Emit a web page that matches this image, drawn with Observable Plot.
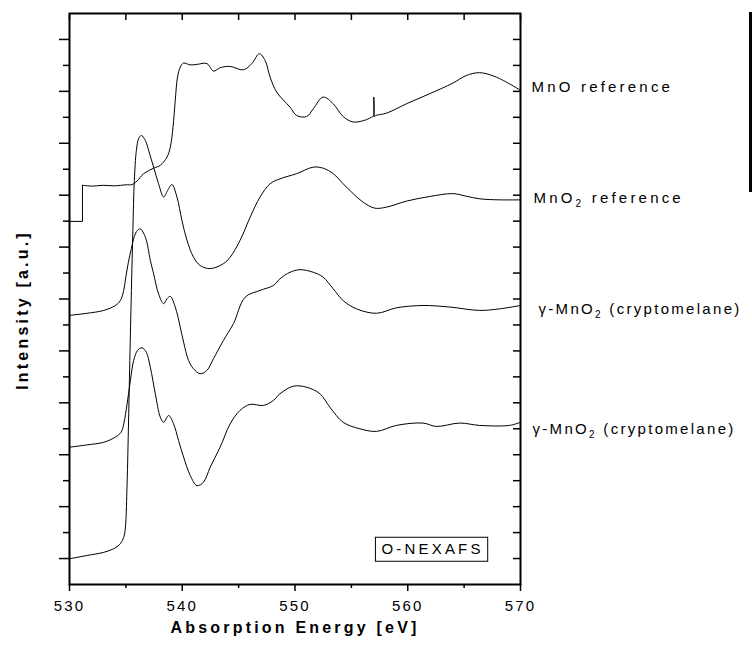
<!DOCTYPE html>
<html><head><meta charset="utf-8">
<script src="https://cdn.jsdelivr.net/npm/d3@7"></script>
<script src="https://cdn.jsdelivr.net/npm/@observablehq/plot@0.6"></script>
<style>
body{margin:0;background:#fff;}
#chart{position:relative;width:752px;height:647px;overflow:hidden;}
#edge{position:absolute;left:749px;top:12px;width:3px;height:180px;background:#000;}
#chart svg text{letter-spacing:3.2px;}
#chart svg g[aria-label="x-axis tick label"] text{letter-spacing:2.2px;}
#chart svg g.glabel text{letter-spacing:2.3px;}
</style></head><body><div id="chart"><div id="edge"></div></div>
<script>
// Energy [eV], intensity [a.u., offset stacked]
const mnoRef = [[530.00,13.99],[531.15,13.99],[531.15,15.38],[532.0,15.35],[533.0,15.38],[534.0,15.36],[535.0,15.40],[535.55,15.41],[536.0,15.55],[536.58,15.83],[537.46,16.04],[538.05,16.15],[538.65,16.47],[538.94,16.85],[539.18,17.62],[539.38,18.65],[539.58,19.55],[539.82,19.93],[540.12,20.09],[540.7,20.02],[541.30,20.04],[542.19,20.07],[542.77,19.78],[543.36,19.91],[544.25,19.96],[545.42,19.83],[546.17,20.07],[546.84,20.45],[547.35,20.19],[547.79,19.55],[548.38,18.97],[549.56,18.39],[550.15,18.07],[551.04,18.03],[551.62,18.33],[552.50,18.78],[553.39,18.52],[554.27,18.03],[555.16,17.82],[556.35,17.91],[556.79,18.01],[556.95,18.03],[556.99,18.78],[557.06,18.03],[557.17,18.07],[558.12,18.16],[559.88,18.52],[561.95,18.91],[564.01,19.32],[565.19,19.61],[566.37,19.72],[567.85,19.55],[570.00,19.04]];
const mno2Ref = [[530.00,0.99],[531.57,1.12],[533.04,1.24],[533.92,1.38],[534.51,1.57],[534.81,1.82],[534.96,2.21],[535.09,3.60],[535.22,5.92],[535.35,8.63],[535.49,11.33],[535.62,13.64],[535.75,15.57],[535.93,16.72],[536.13,17.18],[536.37,17.30],[536.73,17.11],[537.02,16.72],[537.46,16.08],[537.90,15.44],[538.35,14.93],[538.70,15.18],[539.09,15.41],[539.53,14.93],[539.97,14.03],[540.42,13.26],[541.00,12.61],[541.59,12.29],[542.48,12.17],[543.65,12.36],[544.25,12.61],[545.13,13.26],[546.02,14.15],[546.90,14.93],[547.79,15.44],[548.67,15.63],[550.15,15.83],[551.62,16.08],[552.50,16.04],[553.39,15.83],[554.27,15.44],[555.16,15.06],[556.04,14.73],[557.08,14.50],[558.12,14.54],[559.88,14.77],[561.95,14.95],[564.01,15.06],[565.19,14.96],[566.37,14.86],[568.14,14.82],[570.00,14.82]];
const gamma1 = [[530.00,10.37],[531.57,10.45],[533.04,10.56],[534.07,10.75],[534.51,10.94],[534.81,11.33],[535.00,11.87],[535.22,12.41],[535.49,12.95],[535.75,13.41],[536.02,13.64],[536.28,13.70],[536.73,13.38],[537.17,12.49],[537.46,11.97],[537.90,11.20],[538.35,10.82],[538.65,11.01],[538.94,11.10],[539.38,10.69],[539.82,9.92],[540.12,9.34],[540.56,8.63],[541.00,8.31],[541.59,8.12],[542.19,8.25],[542.77,8.70],[543.65,9.40],[544.54,10.05],[545.58,11.07],[546.90,11.33],[548.08,11.52],[548.67,11.78],[549.56,12.03],[550.44,12.13],[551.62,12.03],[552.50,11.84],[553.39,11.39],[554.27,10.94],[555.46,10.62],[557.23,10.45],[559.00,10.66],[561.35,10.75],[563.72,10.69],[566.37,10.56],[568.14,10.62],[570.00,10.75]];
const gamma2 = [[530.00,5.29],[531.57,5.38],[533.04,5.48],[534.07,5.68],[534.58,5.87],[534.81,6.19],[535.11,6.96],[535.40,7.86],[535.69,8.63],[536.04,9.02],[536.43,9.12],[536.81,8.95],[537.17,8.37],[537.61,7.35],[538.05,6.45],[538.35,6.25],[538.79,6.51],[539.23,6.19],[539.67,5.55],[540.12,4.91],[540.71,4.20],[541.30,3.81],[541.88,3.94],[542.48,4.52],[543.36,5.29],[544.25,6.19],[545.13,6.71],[546.02,6.94],[547.19,6.90],[548.08,7.09],[548.67,7.35],[549.85,7.64],[551.04,7.60],[552.21,7.35],[553.10,6.83],[554.27,6.25],[555.75,6.00],[557.23,5.90],[559.00,6.13],[561.35,6.22],[562.54,6.09],[564.60,6.22],[566.37,6.13],[569.03,6.13],[570.00,6.25]];
const seriesNames = ["MnO reference","MnO₂ reference","γ-MnO₂ (cryptomelane)","γ-MnO₂ (cryptomelane)"];
const xMajor = [530,540,550,560,570];
const xMinor = [535,545,555,565];
const xTop = [530,535,540,545,550,555,560,565,570];
const yMajor = [1,3,5,7,9,11,13,15,17,19,21];
const yMinor = [2,4,6,8,10,12,14,16,18,20];
const yRight = [1,2,3,4,5,6,7,8,9,10,11,12,13,14,15,16,17,18,19,20,21];
const boxLabel = {text:"O-NEXAFS", x:562.2, y:1.35};
const xLabel = "Absorption Energy [eV]";
const yLabel = "Intensity [a.u.]";

const series = [mnoRef, mno2Ref, gamma1, gamma2];
const rows = series.flatMap((s,k)=>s.map(([e,v],j)=>({e,v,k,step:k===0 && j<3})));
const ends = series.map((s,k)=>({e:s[s.length-1][0], v:s[s.length-1][1], name:seriesNames[k]}));
const font = "'Liberation Sans', Arial, Helvetica, sans-serif";
const labelDx = [11,13,18,12];
const labelDy = [-3,-2,4,7];
const labelClass = ["rlabel","rlabel","glabel","glabel"];
const noText = ()=>"";
const stepRows = rows.filter(d=>d.step);
const curveRows = rows.filter(d=>!d.step || d===stepRows[2]);

const plot = Plot.plot({
  width:752, height:647,
  marginLeft:69, marginRight:232, marginTop:13, marginBottom:63,
  x:{domain:[530,570]},
  y:{domain:[0,22]},
  style:{fontFamily:font, fontSize:"15px", color:"#000", background:"#fff"},
  marks:[
    Plot.line(stepRows,{x:"e", y:"v", stroke:"#000", strokeWidth:1}),
    Plot.line(curveRows,{x:"e", y:"v", z:"k", stroke:"#000", strokeWidth:1, curve:"catmull-rom"}),
    Plot.axisX({anchor:"bottom", ticks:xMajor, tickSize:7, tickPadding:9, tickFormat:d=>String(d), label:null, strokeWidth:1.5, fontSize:15}),
    Plot.axisX({anchor:"bottom", ticks:xMinor, tickSize:4, tickFormat:noText, label:null, strokeWidth:1.5}),
    Plot.axisX({anchor:"top", ticks:xTop, tickSize:-6, tickFormat:noText, label:null, strokeWidth:1.5}),
    Plot.axisY({anchor:"left", ticks:yMajor, tickSize:10, tickFormat:noText, label:null, strokeWidth:1.5}),
    Plot.axisY({anchor:"left", ticks:yMinor, tickSize:6, tickFormat:noText, label:null, strokeWidth:1.5}),
    Plot.axisY({anchor:"right", ticks:yRight, tickSize:-8, tickFormat:noText, label:null, strokeWidth:1.5}),
    Plot.frame({stroke:"#000", strokeWidth:2}),
    ...ends.map((d,i)=>Plot.text([d],{x:"e", y:"v", text:"name", textAnchor:"start", dx:labelDx[i], dy:labelDy[i], fontSize:15, clip:false, className:labelClass[i]})),
    Plot.text([xLabel],{text:d=>d, frameAnchor:"bottom", textAnchor:"middle", dy:48, fontWeight:"bold", fontSize:16}),
    Plot.text([yLabel],{text:d=>d, frameAnchor:"left", textAnchor:"middle", dx:-47, dy:11, rotate:-90, fontWeight:"bold", fontSize:16}),
    Plot.text([boxLabel],{x:"x", y:"y", text:"text", fontSize:15, className:"boxlabel"})
  ]
});
const chart = document.getElementById("chart");
chart.appendChild(plot);

// subscripts
plot.querySelectorAll("text").forEach(t=>{
  if (!t.textContent.includes("₂")) return;
  const parts = t.textContent.split("₂");
  t.textContent = "";
  parts.forEach((p,i)=>{
    const s = document.createElementNS("http://www.w3.org/2000/svg","tspan");
    s.textContent = p;
    if (i>0) s.setAttribute("dy","-4");
    t.appendChild(s);
    if (i<parts.length-1){
      const sub = document.createElementNS("http://www.w3.org/2000/svg","tspan");
      sub.textContent = "2";
      sub.setAttribute("dy","4");
      sub.setAttribute("font-size","10");
      t.appendChild(sub);
    }
  });
});

// box around O-NEXAFS
const bl = plot.querySelector(".boxlabel text");
if (bl){
  const b = bl.getBBox();
  const m = bl.getCTM();
  const r = document.createElementNS("http://www.w3.org/2000/svg","rect");
  const pt = plot.createSVGPoint(); pt.x=b.x; pt.y=b.y;
  const p0 = pt.matrixTransform(m);
  r.setAttribute("x", p0.x-6);
  r.setAttribute("y", p0.y-3);
  r.setAttribute("width", b.width+10);
  r.setAttribute("height", b.height+7);
  r.setAttribute("fill","none");
  r.setAttribute("stroke","#000");
  r.setAttribute("stroke-width","1");
  plot.appendChild(r);
}
</script></body></html>
